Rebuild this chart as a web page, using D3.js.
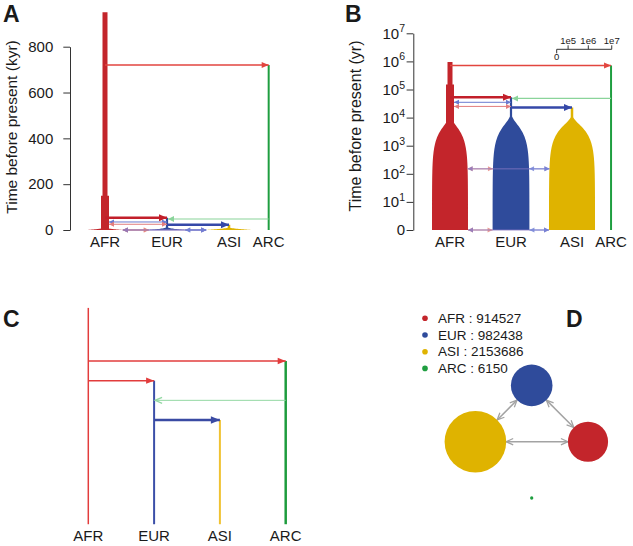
<!DOCTYPE html>
<html><head><meta charset="utf-8">
<script src="https://cdn.jsdelivr.net/npm/d3@7"></script>
<style>
body{margin:0;background:#fff}
svg{display:block}
text{font-family:"Liberation Sans",Arial,Helvetica,sans-serif;fill:#1a1a1a}
</style>
</head><body>
<svg id="fig" width="633" height="546"></svg>
<script>
// ---------------- DATA ----------------
const pops = ["AFR", "EUR", "ASI", "ARC"];
const popSizes = [914527, 982438, 2153686, 6150];
// epochs: [tRecent (yr), tAncient (yr), N at recent end, N at ancient end]
const afrEpochs = [[0, 6500, 914527, 46500], [6500, 150000, 46500, 46500], [150000, 950000, 25400, 25400]];
const eurEpochs = [[0, 11000, 982438, 9900], [11000, 53000, 9900, 9900]];
const asiEpochs = [[0, 10300, 2153686, 11400], [10300, 23000, 11400, 11400]];
const arcEpochs = [[0, 720000, 6150, 6150]];
// population splits (source -> new population), in years
const splitTimes = [720000, 53000, 23000];
const splitFrom = ["AFR", "AFR", "EUR"];
const splitTo = ["ARC", "EUR", "ASI"];
// admixture pulse
const pulseTimes = [48000];
const pulseFrom = ["ARC"];
const pulseTo = ["EUR"];
// ancient migration markers
const ancMigTimes = [35000, 25000];
const ancMigFrom = ["EUR", "AFR"];
const ancMigTo = ["AFR", "EUR"];
// recent migrations (pairs) and times
const migPairs = [["AFR", "EUR"], ["AFR", "ASI"], ["EUR", "ASI"]];
const recentMigTimes = [150, 0];
// axis ticks
const ticksA = [0, 200, 400, 600, 800];
const ticksB = [1, 10, 100, 1000, 1e4, 1e5, 1e6, 1e7];
const sizeLegendTicks = [0, 1e5, 1e6, 1e7];
const sizeLegendLabels = ["0", "1e5", "1e6", "1e7"];

// ---------------- STYLE / LAYOUT ----------------
const popColor = {AFR: "#c3252b", EUR: "#2f4b9b", ASI: "#dfb300", ARC: "#1f9e40"};
const topoColor = {AFR: "#e23c3c", EUR: "#3b4fa8", ASI: "#f0c232", ARC: "#1e9c3e"};
const epochsByPop = {AFR: afrEpochs, EUR: eurEpochs, ASI: asiEpochs, ARC: arcEpochs};
const layoutSlots = {AFR: 0, EUR: 1, ASI: 2, ARC: 2.64};
const svg = d3.select("#fig");
const defs = svg.append("defs");
let mk = 0;
function marker(color, len, hw, open) {
  const id = "m" + (mk++);
  const m = defs.append("marker").attr("id", id).attr("markerUnits", "userSpaceOnUse")
    .attr("viewBox", `0 0 ${len} ${2 * hw}`).attr("refX", len).attr("refY", hw)
    .attr("markerWidth", len).attr("markerHeight", 2 * hw)
    .attr("orient", "auto-start-reverse").style("overflow", "visible");
  if (open) m.append("path").attr("d", `M0,0L${len},${hw}L0,${2 * hw}`).attr("fill", "none").attr("stroke", color).attr("stroke-width", 1.3);
  else m.append("path").attr("d", `M0,0L${len},${hw}L0,${2 * hw}Z`).attr("fill", color);
  return `url(#${id})`;
}
function arrow(g, x1, y1, x2, y2, color, sw, len, hw, dbl, open, op) {
  const m = marker(color, len, hw, open);
  const l = g.append("line").attr("x1", x1).attr("y1", y1).attr("x2", x2).attr("y2", y2)
    .attr("stroke", color).attr("stroke-width", sw).attr("marker-end", m);
  if (dbl) l.attr("marker-start", m);
  if (op) l.attr("opacity", op);
  return l;
}

// width of a population as a function of size
const widthOf = N => Math.max(2, 28 * Math.log10(1 + N / 5e4));
const legendWidth = N => 23.9 * Math.log10(1 + N / 5e4);

function sizeAt(pop, t) {
  const ep = epochsByPop[pop];
  for (const [tr, ta, Nr, Na] of ep) {
    if (t >= tr && t <= ta) return Nr * Math.pow(Na / Nr, (t - tr) / (ta - tr));
  }
  return ep[ep.length - 1][3];
}
function samples(pop) {
  const pts = [];
  epochsByPop[pop].forEach(([tr, ta, Nr, Na]) => {
    const n = 80, l0 = Math.log(Math.max(tr, 1)), l1 = Math.log(ta);
    for (let k = 0; k <= n; k++) {
      const t = k === 0 ? tr : Math.exp(l0 + (l1 - l0) * k / n);
      pts.push({t: t, w: widthOf(Nr * Math.pow(Na / Nr, (t - tr) / (ta - tr)))});
    }
  });
  return pts;
}

function drawDemog(g, xOf, tY) {
  pops.forEach(p => {
    const xc = xOf(p);
    const area = d3.area().x0(d => xc - d.w / 2).x1(d => xc + d.w / 2).y(d => tY(d.t));
    g.append("path").attr("d", area(samples(p))).attr("fill", popColor[p]);
  });
  const edge = (p, other, t) => {
    const w = widthOf(sizeAt(p, t)) / 2;
    return xOf(p) + (xOf(other) > xOf(p) ? w : -w);
  };
  recentMigTimes.forEach(t => {
    const cols = ["#e8857c", "#8576c2", "#6f7fd6"];
    migPairs.forEach(([a, b], i) => {
      arrow(g, edge(a, b, t), tY(t), edge(b, a, t), tY(t), cols[i], 1, 5, 2.5, true, false, 0.8);
    });
  });
  ancMigTimes.forEach((t, i) => {
    const a = ancMigFrom[i], b = ancMigTo[i];
    const col = a === "EUR" ? "#6a7bd0" : "#e27d7d";
    arrow(g, b === "AFR" ? xOf(a) : edge(a, b, t), tY(t), b === "AFR" ? edge(b, a, t) : xOf(b), tY(t), col, 1, 5, 2.5, true);
  });
  pulseTimes.forEach((t, i) => {
    arrow(g, xOf(pulseFrom[i]), tY(t), xOf(pulseTo[i]) + 1, tY(t), "#8ad49a", 1.2, 6, 3);
  });
  splitTimes.forEach((t, i) => {
    const f = splitFrom[i], to = splitTo[i];
    const col = to === "ARC" ? "#e2453f" : (f === "AFR" ? "#c21f2a" : "#3548a8");
    const sw = to === "ARC" ? 1.5 : 2.5;
    arrow(g, xOf(f), tY(t), xOf(to), tY(t), col, sw, to === "ARC" ? 7 : 8, to === "ARC" ? 3 : 3.5);
  });
}

function popLabels(g, xOf, y) {
  pops.forEach(p => g.append("text").attr("x", xOf(p)).attr("y", y).attr("text-anchor", "middle")
    .attr("font-size", 15).text(p));
}
function panelLetter(x, y, s) {
  svg.append("text").attr("x", x).attr("y", y).attr("font-size", 23).attr("font-weight", "bold").text(s);
}

// ---------------- PANEL A ----------------
{
  const g = svg.append("g");
  const x = d3.scaleLinear().domain([0, 1]).range([105, 167]);
  const xOf = p => x(layoutSlots[p]);
  const y = d3.scaleLinear().domain([0, 800]).range([230, 46.7]);
  const tY = t => y(t / 1000);
  drawDemog(g, xOf, tY);
  const ax = g.append("g").attr("transform", "translate(70,0)")
    .call(d3.axisLeft(y).tickValues(ticksA).tickSize(6.7).tickSizeOuter(0).tickPadding(10));
  ax.selectAll("path,line").attr("stroke", "#333");
  ax.selectAll("text").attr("font-size", 15).attr("font-family", "Liberation Sans, Arial, sans-serif").attr("fill", "#1a1a1a");
  g.append("text").attr("transform", "translate(16.5,127) rotate(-90)").attr("text-anchor", "middle")
    .attr("font-size", 15.5).text("Time before present (kyr)");
  popLabels(g, xOf, 247.3);
  panelLetter(3, 21.7, "A");
}

// ---------------- PANEL B ----------------
{
  const g = svg.append("g");
  const x = d3.scaleLinear().domain([0, 1]).range([450, 511]);
  const xOf = p => x(layoutSlots[p]);
  const y = d3.scaleLog().domain([1, 1e7]).range([230, 33.3]).clamp(true);
  const tY = t => y(Math.max(t, 1));
  drawDemog(g, xOf, tY);
  const ax = g.append("g").attr("transform", "translate(413.3,0)")
    .call(d3.axisLeft(y).tickValues(ticksB).tickSize(6.7).tickSizeOuter(0).tickPadding(1.6));
  ax.selectAll("path,line").attr("stroke", "#333");
  ax.selectAll(".tick text").each(function (d) {
    const t = d3.select(this).text("").attr("font-size", 15).attr("font-family", "Liberation Sans, Arial, sans-serif").attr("fill", "#1a1a1a");
    if (d === 1) { t.text("0"); return; }
    t.append("tspan").text("10");
    t.append("tspan").attr("dy", "-0.6em").attr("font-size", 10.5).text(Math.round(Math.log10(d)));
  });
  g.append("text").attr("transform", "translate(361,126) rotate(-90)").attr("text-anchor", "middle")
    .attr("font-size", 16).text("Time before present (yr)");
  popLabels(g, xOf, 247.3);
  const x0 = 556.7, yl = 49.3;
  const sl = g.append("g");
  sl.append("line").attr("x1", x0).attr("x2", x0 + legendWidth(1e7)).attr("y1", yl).attr("y2", yl).attr("stroke", "#333");
  sizeLegendTicks.forEach((v, i) => {
    const xx = x0 + legendWidth(v);
    if (v === 0) {
      sl.append("line").attr("x1", xx).attr("x2", xx).attr("y1", yl).attr("y2", yl + 4).attr("stroke", "#333");
      sl.append("text").attr("x", xx).attr("y", yl + 11).attr("text-anchor", "middle").attr("font-size", 9.5).text(sizeLegendLabels[i]);
    } else {
      sl.append("line").attr("x1", xx).attr("x2", xx).attr("y1", yl).attr("y2", yl - 4).attr("stroke", "#333");
      sl.append("text").attr("x", xx).attr("y", yl - 5).attr("text-anchor", "middle").attr("font-size", 9.5).text(sizeLegendLabels[i]);
    }
  });
  panelLetter(345, 22, "B");
}

// ---------------- PANEL C ----------------
{
  const g = svg.append("g");
  const x = d3.scalePoint().domain(pops).range([88.3, 285.7]);
  const events = splitTimes.map((t, i) => ({t, from: splitFrom[i], to: splitTo[i], type: "split"}))
    .concat(pulseTimes.map((t, i) => ({t, from: pulseFrom[i], to: pulseTo[i], type: "pulse"})))
    .sort((a, b) => b.t - a.t);
  const y = d3.scaleLinear().domain([0, 3]).range([361, 420]);
  const rootRank = -2.7, presentRank = 8.3;
  const startRank = {AFR: rootRank};
  events.forEach((e, i) => { if (e.type === "split") startRank[e.to] = i; });
  const lw = {AFR: 1.5, EUR: 2, ASI: 2, ARC: 2.5};
  pops.forEach(p => g.append("line").attr("x1", x(p)).attr("x2", x(p)).attr("y1", y(startRank[p])).attr("y2", y(presentRank))
    .attr("stroke", topoColor[p]).attr("stroke-width", lw[p]));
  events.forEach((e, i) => {
    if (e.type === "pulse") {
      arrow(g, x(e.from), y(i), x(e.to) + 1, y(i), "#93d8a3", 1, 7, 3, false, true);
    } else if (e.from === "AFR") {
      arrow(g, x(e.from), y(i), x(e.to), y(i), "#e23c3c", 1.5, 8, 3.2);
    } else {
      arrow(g, x(e.from), y(i), x(e.to), y(i), "#3a4aa3", 2.5, 9, 3.8);
    }
  });
  pops.forEach(p => g.append("text").attr("x", x(p)).attr("y", 540.7).attr("text-anchor", "middle").attr("font-size", 15).text(p));
  panelLetter(3, 326.7, "C");
}

// ---------------- PANEL D ----------------
{
  const g = svg.append("g");
  pops.forEach((p, i) => {
    const yy = 318.3 + i * 16.7;
    g.append("circle").attr("cx", 425).attr("cy", yy).attr("r", 2.8).attr("fill", popColor[p]);
    g.append("text").attr("x", 438).attr("y", yy + 4.7).attr("font-size", 13.5).text(`${p} : ${popSizes[i]}`);
  });
  const r = d3.scaleSqrt().domain([0, d3.max(popSizes)]).range([0, 30.8]);
  const cx = 531.7, cy = 441.7, R = 56.3;
  const pos = {};
  pops.forEach((p, i) => {
    const a = -i * Math.PI / 2;
    pos[p] = {x: cx + R * Math.cos(a), y: cy + R * Math.sin(a), r: r(popSizes[i])};
  });
  migPairs.forEach(([a, b]) => {
    const A = pos[a], B = pos[b];
    const dx = B.x - A.x, dy = B.y - A.y, L = Math.hypot(dx, dy), ux = dx / L, uy = dy / L;
    arrow(g, A.x + ux * A.r, A.y + uy * A.r, B.x - ux * B.r, B.y - uy * B.r, "#a3a3a3", 1.5, 7, 3.2, true, true);
  });
  pops.forEach(p => g.append("circle").attr("cx", pos[p].x).attr("cy", pos[p].y).attr("r", pos[p].r).attr("fill", popColor[p]));
  panelLetter(566, 327, "D");
}
</script>
</body></html>
